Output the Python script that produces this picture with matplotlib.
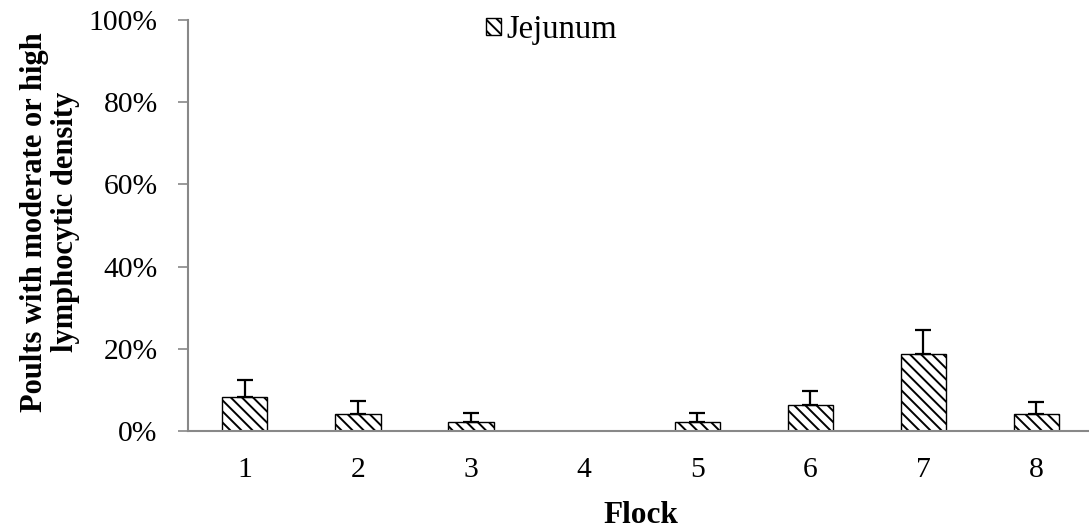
import matplotlib.pyplot as plt
import numpy as np

flocks = ['1', '2', '3', '4', '5', '6', '7', '8']
jejunum = [8.3, 4.2, 2.1, 0.0, 2.1, 6.3, 18.8, 4.2]
jejunum_err = [4.1, 3.0, 2.3, 0.0, 2.2, 3.5, 5.8, 2.9]
y_ticks = [0, 20, 40, 60, 80, 100]

plt.rcParams['font.family'] = ['Liberation Serif', 'DejaVu Serif']
plt.rcParams['hatch.linewidth'] = 1.4
plt.rcParams['hatch.color'] = '#2a2a2a'

fig = plt.figure(figsize=(10.89, 5.31), dpi=100)
ax = fig.add_axes([188.3 / 1089, 100 / 531, (1093 - 188.3) / 1089, 411 / 531])

x = np.arange(len(flocks))
vals = np.array(jejunum)
errs = np.array(jejunum_err)
has_err = errs > 0

ax.bar(x, vals, width=0.4, color='white', edgecolor='black', linewidth=1.0,
       hatch='\\\\\\', label='Jejunum', zorder=2)
# one-sided (upper) error bars
ax.errorbar(x[has_err], vals[has_err], yerr=[np.zeros(has_err.sum()), errs[has_err]],
            fmt='none', ecolor='black', elinewidth=1.6, capsize=6, capthick=1.6, zorder=3)

ax.set_xlim(-0.5, len(flocks) - 0.5)
ax.set_ylim(0, 100)
ax.set_xticks(x)
ax.set_xticklabels(flocks)
ax.set_yticks(y_ticks)
ax.set_yticklabels([f'{t}%' for t in y_ticks])
ax.tick_params(axis='x', length=0, pad=19, labelsize=21.3)
ax.tick_params(axis='y', length=7, width=1.2, color='#888888', labelsize=21.3, pad=15)

for side in ['top', 'right']:
    ax.spines[side].set_visible(False)
for side in ['left', 'bottom']:
    ax.spines[side].set_color('#888888')
    ax.spines[side].set_linewidth(1.5)
    ax.spines[side].set_zorder(4)

ax.set_xlabel('Flock', fontsize=22.5, fontweight='bold', labelpad=13)
ax.set_ylabel('Poults with moderate or high\nlymphocytic density', fontsize=22,
              fontweight='bold', linespacing=1.1)
ax.yaxis.set_label_coords((80 - 188.3) / 905, 0.508)

ax.legend(loc='center left', bbox_to_anchor=(470 / 1089, 1 - 30 / 531),
          bbox_transform=fig.transFigure, frameon=False, fontsize=23.5,
          handlelength=0.45, handleheight=0.45, handletextpad=0.15, borderpad=0)

fig.savefig('out.png', dpi=100)
